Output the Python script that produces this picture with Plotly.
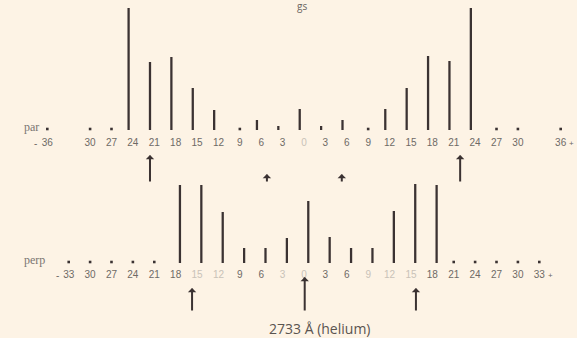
import plotly.graph_objects as go

# ---------------- data ----------------
# parallel component (positions in units, signed; intensities)
par_pos = [-24, -21, -18, -15, -12, -6, -3, 0, 3, 6, 12, 15, 18, 21, 24]
par_int = [122, 68, 73, 42, 20, 10, 4, 21, 4, 10, 21, 42, 74, 69, 122]
par_dots = [-36, -30, -27, -9, 9, 27, 30, 36]
par_tick_pos = [-36, -30, -27, -24, -21, -18, -15, -12, -9, -6, -3, 0, 3, 6, 9, 12, 15, 18, 21, 24, 27, 30, 36]
par_tick_lbl = ["36", "30", "27", "24", "21", "18", "15", "12", "9", "6", "3", "0", "3", "6", "9", "12", "15", "18", "21", "24", "27", "30", "36"]

# perpendicular component
perp_pos = [-18, -15, -12, -9, -6, -3, 0, 3, 6, 9, 12, 15, 18]
perp_int = [78, 78, 51, 15, 15, 25, 62, 26, 15, 15, 52, 79, 78]
perp_dots = [-33, -30, -27, -24, -21, 21, 24, 27, 30, 33]
perp_tick_pos = [-33, -30, -27, -24, -21, -18, -15, -12, -9, -6, -3, 0, 3, 6, 9, 12, 15, 18, 21, 24, 27, 30, 33]
perp_tick_lbl = ["33", "30", "27", "24", "21", "18", "15", "12", "9", "6", "3", "0", "3", "6", "9", "12", "15", "18", "21", "24", "27", "30", "33"]
perp_faint = [-15, -12, -3, 0, 9, 12, 15]
par_faint = [0]

# arrows (x position, tail level, head level)
arrow_x = [-21.6, 21.9, -5.2, 5.3, -15.7, 0.1, 15.7]
arrow_tail = [155, 155, 155, 155, 26, 26, 26]
arrow_head = [183, 183, 164, 164, 50, 61, 50]

caption = "2733 Å (helium)"
heading = "gs"

# ---------------- layout constants ----------------
PX = 7.13          # pixels per unit
CX = 304           # pixel x of zero
W, H = 577, 338
PAR_BASE = H - 130
PERP_BASE = H - 263
BAR_W = 0.32
INK = "#3b3232"
LBL = "#6e6a66"
BG = "#fdf3e5"

fig = go.Figure()

fig.add_trace(go.Bar(x=par_pos, y=par_int, base=PAR_BASE, width=BAR_W,
                     marker=dict(color=INK, line=dict(width=0)), hoverinfo="skip"))
fig.add_trace(go.Bar(x=perp_pos, y=perp_int, base=PERP_BASE, width=BAR_W,
                     marker=dict(color=INK, line=dict(width=0)), hoverinfo="skip"))

fig.add_trace(go.Scatter(x=par_dots, y=[PAR_BASE + 1] * len(par_dots), mode="markers",
                         marker=dict(color=INK, size=2.6, symbol="square"), hoverinfo="skip"))
fig.add_trace(go.Scatter(x=perp_dots, y=[PERP_BASE + 1] * len(perp_dots), mode="markers",
                         marker=dict(color=INK, size=2.6, symbol="square"), hoverinfo="skip"))

lbl_font = dict(family="Liberation Sans", size=10, color=LBL)
faint_font = dict(family="Liberation Sans", size=10, color="#c9c2b8")

fig.add_trace(go.Scatter(x=[p for p in par_tick_pos if p not in par_faint],
                         y=[PAR_BASE - 13] * (len(par_tick_pos) - len(par_faint)),
                         text=[l for p, l in zip(par_tick_pos, par_tick_lbl) if p not in par_faint],
                         mode="text", textfont=lbl_font, hoverinfo="skip"))
fig.add_trace(go.Scatter(x=[p for p in par_tick_pos if p in par_faint],
                         y=[PAR_BASE - 13] * len(par_faint),
                         text=[l for p, l in zip(par_tick_pos, par_tick_lbl) if p in par_faint],
                         mode="text", textfont=faint_font, hoverinfo="skip"))
fig.add_trace(go.Scatter(x=[p for p in perp_tick_pos if p not in perp_faint],
                         y=[PERP_BASE - 12] * (len(perp_tick_pos) - len(perp_faint)),
                         text=[l for p, l in zip(perp_tick_pos, perp_tick_lbl) if p not in perp_faint],
                         mode="text", textfont=lbl_font, hoverinfo="skip"))
fig.add_trace(go.Scatter(x=[p for p in perp_tick_pos if p in perp_faint],
                         y=[PERP_BASE - 12] * len(perp_faint),
                         text=[l for p, l in zip(perp_tick_pos, perp_tick_lbl) if p in perp_faint],
                         mode="text", textfont=faint_font, hoverinfo="skip"))

ann = []
# minus / plus signs
ann.append(dict(x=par_tick_pos[0], y=PAR_BASE - 13, text="-", showarrow=False, xshift=-12, font=lbl_font))
ann.append(dict(x=par_tick_pos[-1], y=PAR_BASE - 13, text="+", showarrow=False, xshift=11, font=dict(family="Liberation Sans", size=8, color=LBL)))
ann.append(dict(x=perp_tick_pos[0], y=PERP_BASE - 12, text="-", showarrow=False, xshift=-11, font=lbl_font))
ann.append(dict(x=perp_tick_pos[-1], y=PERP_BASE - 12, text="+", showarrow=False, xshift=11, font=dict(family="Liberation Sans", size=8, color=LBL)))

# row names
ann.append(dict(x=-39.6, y=PAR_BASE + 3, text="par", showarrow=False, xanchor="left",
                font=dict(family="Liberation Serif", size=12, color="#7a7672")))
ann.append(dict(x=-39.6, y=PERP_BASE + 3, text="perp", showarrow=False, xanchor="left",
                font=dict(family="Liberation Serif", size=12, color="#7a7672")))

for x, t, h in zip(arrow_x, arrow_tail, arrow_head):
    ann.append(dict(x=x, y=h, ax=x, ay=t, xref="x", yref="y", axref="x", ayref="y",
                    text="", showarrow=True, arrowhead=1, arrowsize=0.7, arrowwidth=2,
                    arrowcolor=INK, standoff=0))

ann.append(dict(x=2.2, y=H - 328, text=caption, showarrow=False, yanchor="middle",
                font=dict(family="Open Sans", size=14, color="#5a5450")))
# heading at the top edge
ann.append(dict(x=(302 - CX) / PX, xref="x", y=1.0, yref="paper", yshift=3, text=heading,
                showarrow=False, yanchor="top",
                font=dict(family="Open Sans", size=10, color="#6a6460")))

fig.update_layout(
    width=W, height=H, margin=dict(l=0, r=0, t=0, b=0),
    paper_bgcolor=BG, plot_bgcolor=BG, showlegend=False,
    xaxis=dict(range=[-CX / PX, (W - CX) / PX], visible=False, fixedrange=True),
    yaxis=dict(range=[0, H], visible=False, fixedrange=True),
    annotations=ann,
)

fig.write_html("out.html", config={"displayModeBar": False},
               post_script="document.body.style.margin='0';document.body.style.background='%s';" % BG)
